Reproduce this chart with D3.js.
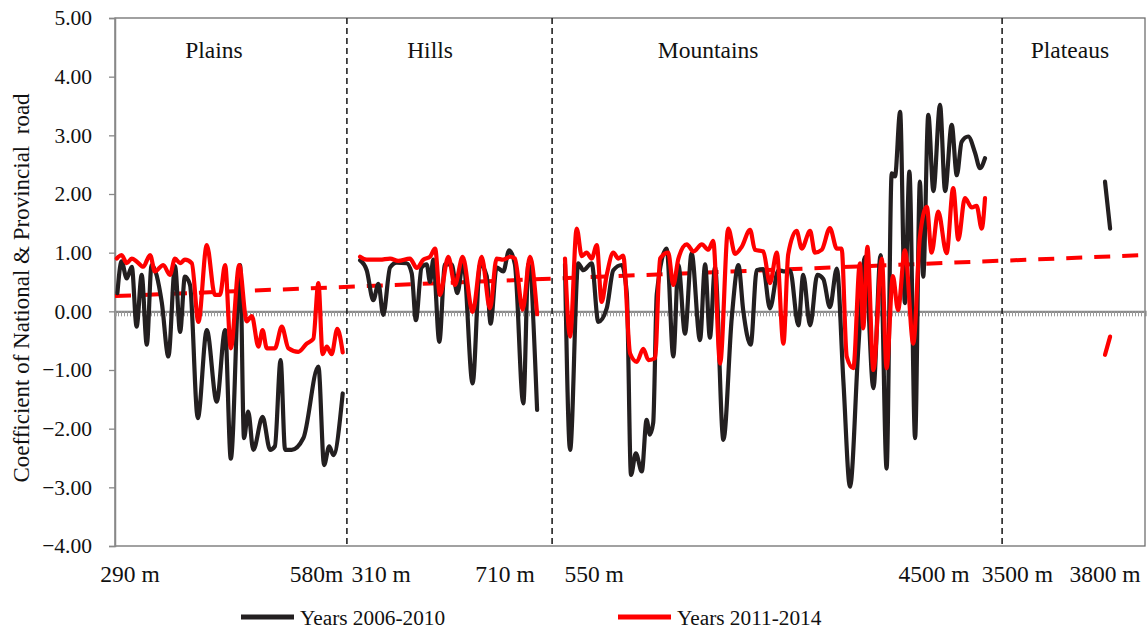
<!DOCTYPE html>
<html><head><meta charset="utf-8">
<script src="https://cdn.jsdelivr.net/npm/d3@7/dist/d3.min.js"></script>
<style>body{margin:0;background:#fff}svg{display:block}text{font-family:"Liberation Serif","Times New Roman",serif;fill:#111}</style>
</head><body><svg id="c" width="1147" height="632"></svg>
<script>
// ---- data (x = sample index along the category axis, y = coefficient) ----
const yTicks = [5, 4, 3, 2, 1, 0, -1, -2, -3, -4];
const regionNames = ["Plains", "Hills", "Mountains", "Plateaus"];
const regionLabelPos = [33, 105, 197.7, 318.3];
const regionBounds = [77.3, 145.7, 295.7];
const xLabels = ["290 m", "580m", "310 m", "710 m", "550 m", "4500 m", "3500 m", "3800 m"];
const xLabelPos = [5, 67.2, 88.7, 130, 159.7, 273, 300.8, 330];
const categoryCount = 343;
const seriesNames = ["Years 2006-2010", "Years 2011-2014"];
const trendValues = [0.26, 0.96];

const black2006 = [
 [[0.8,0.31],[2.2,0.85],[3.9,0.56],[5.6,0.76],[7.2,-0.26],[8.9,0.62],[10.6,-0.57],[12.2,0.79],[15.6,0.15],[17.8,-0.77],[20,0.77],[21.7,-0.35],[23.3,0.59],[25,0.45],[27.6,-1.82],[30.6,-0.32],[33.9,-1.54],[36.7,-0.32],[38.6,-2.51],[41.7,0.79],[43,-2.16],[44.4,-1.71],[46.1,-2.36],[49.2,-1.8],[51.7,-2.36],[53.3,-2.3],[55.2,-0.83],[56.7,-2.36],[58.9,-2.36],[62.8,-2.16],[67.8,-0.94],[69.7,-2.62],[71.4,-2.3],[72.8,-2.45],[75.9,-1.4]],
 [[81.7,0.87],[83.9,0.7],[86.1,0.19],[87.8,0.47],[89.4,-0.06],[91.7,0.75],[93.9,0.83],[97.2,0.82],[98.9,0.65],[100.3,-0.15],[102.2,0.75],[103.9,0.8],[105,0.5],[106.1,0.88],[108.1,-0.52],[110,0.8],[112.2,0.8],[114.1,0.31],[116.1,0.85],[119.2,-1.23],[121.7,0.8],[123.9,0.6],[125.2,-0.21],[127.2,0.75],[129.4,0.68],[131.4,1.04],[133.3,0.8],[136.1,-1.57],[137.8,0.8],[140.7,-1.68]],
 [[150,0.8],[151.7,-2.36],[154.4,0.82],[156.1,0.7],[158.9,0.82],[161.1,-0.18],[163.9,0.05],[166.1,0.7],[168.9,0.79],[170.6,0.3],[172,-2.79],[173.6,-2.42],[175.6,-2.73],[177.2,-1.85],[178.3,-2.1],[179.4,-1.9],[180.6,0.3],[183.9,1.07],[186.1,-0.77],[187.8,0.79],[190,-0.38],[192.2,0.99],[195,-0.49],[196.7,0.8],[198.3,-0.45],[200,0.75],[202.8,-2.19],[205.6,-0.1],[207.8,0.79],[209.4,0.02],[211.9,-0.57],[213.9,0.7],[216.1,0.72],[218.3,0.05],[221.1,0.7],[223.3,0.68],[225,0.7],[227.8,-0.24],[229.4,0.62],[231.7,-0.24],[234.1,0.62],[236.1,0.55],[238.3,0.07],[240.6,0.73],[242.8,-1.2],[245,-2.99],[247.8,-0.6],[250,0.93],[252.8,-1.31],[255.2,0.96],[257.2,-2.68],[258.9,2.35],[260,2.3],[261.7,3.4],[263.3,0.14],[264.8,2.38],[266.7,-2.16],[268.3,2.21],[269.4,0.59],[271.1,3.35],[272.8,2.05],[275,3.52],[276.7,2.05],[278.9,3.18],[280.6,2.32],[282.2,2.89],[284.4,2.98],[286.7,2.7],[288.3,2.44],[290,2.61]],
 [[330,2.21],[331.7,1.41]]
];
const red2011 = [
 [[0.6,0.9],[2.2,0.96],[3.9,0.82],[5.6,0.9],[7.2,0.85],[9.4,0.76],[11.7,0.96],[13.3,0.68],[16.1,0.79],[18.3,0.62],[20,0.9],[21.7,0.82],[23.3,0.88],[25.6,0.82],[27.8,-0.18],[30.6,1.13],[33.3,0.28],[35,0.28],[36.7,0.79],[38.6,-0.63],[41.4,0.79],[43.9,-0.17],[45.6,-0.08],[47.8,-0.6],[49.2,-0.32],[50.6,-0.63],[53.3,-0.63],[55.6,-0.26],[57.8,-0.63],[61.1,-0.69],[63.9,-0.55],[66.1,-0.47],[67.8,0.48],[69.2,-0.73],[70.6,-0.6],[72.2,-0.73],[74.1,-0.3],[75.9,-0.7]],
 [[81.7,0.93],[83.9,0.88],[88.3,0.88],[91.7,0.9],[94.4,0.86],[98.3,0.9],[100.6,0.74],[102.8,0.88],[105,0.93],[106.7,1.07],[108.3,0.28],[111.1,0.93],[113.3,0.45],[115.9,0.93],[119.2,-0.01],[122.2,0.93],[125,0.05],[127.2,0.9],[129.4,0.88],[131.7,0.93],[133.3,0.9],[135.9,0.03],[138.3,0.93],[140.7,-0.05]],
 [[150,0.9],[151.7,-0.43],[153.9,1.41],[155.6,0.94],[157.2,1.0],[158.9,0.9],[160.6,1.13],[162.2,0.16],[163.9,0.62],[166.1,1.0],[167.8,0.9],[169.4,0.95],[171.7,-0.72],[173.9,-0.86],[176.1,-0.64],[177.8,-0.83],[180,-0.8],[181.7,0.9],[184.4,1.0],[186.1,0.45],[187.8,0.9],[190.6,1.14],[192.8,1.02],[195.6,1.14],[197.8,1.05],[199.4,1.2],[201.7,-0.89],[204.4,1.41],[206.7,0.98],[208.9,1.1],[211.7,1.39],[213.3,1.05],[216.1,1.02],[218.3,0.48],[220.6,1.0],[222.8,-0.55],[224.4,0.97],[227.2,1.37],[228.9,1.07],[231.7,1.37],[233.3,1.0],[235.6,1.05],[238.3,1.42],[240.6,1.07],[242.2,1.07],[243.9,-0.77],[246.1,-0.97],[248.3,0.82],[249.4,-0.29],[250.8,1.1],[252.8,-1.0],[255.6,0.9],[257.2,-0.97],[259.3,0.6],[261,0.02],[263.3,1.04],[266.1,-0.55],[268.3,1.27],[270.6,1.78],[272.2,1.0],[274.4,1.7],[277.2,0.99],[279.4,2.1],[281.1,1.22],[283.3,1.93],[285.6,1.77],[287.2,1.8],[288.9,1.41],[290,1.93]],
 [[330,-0.74],[331.7,-0.43]]
];

// ---- layout ----
const svg = d3.select("#c");
const L = 115, R = 1145, T = 18, B = 546;
const x = d3.scaleLinear().domain([0, categoryCount + 0.33]).range([L, R]);
const y = d3.scaleLinear().domain([-4, 5]).range([B, T]);

// frame
svg.append("rect").attr("x", L).attr("y", T).attr("width", R - L).attr("height", B - T)
  .attr("fill", "none").attr("stroke", "#6f6f6f").attr("stroke-width", 1.3);

// y axis
const yAxis = svg.append("g").attr("transform", `translate(${L},0)`)
  .call(d3.axisLeft(y).tickValues(yTicks).tickFormat(d3.format(".2f")).tickSize(6).tickPadding(17));
yAxis.select(".domain").attr("stroke", "#888").attr("stroke-width", 1.5);
yAxis.selectAll(".tick line").attr("stroke", "#888").attr("stroke-width", 1.3);
yAxis.selectAll("text").attr("font-size", 21.5).attr("font-family", "Liberation Serif").attr("fill", "#111");

// zero category axis with many ticks
const cats = d3.range(0, categoryCount + 1);
const xAxis = svg.append("g").attr("transform", `translate(0,${y(0)})`)
  .call(d3.axisBottom(x).tickValues(cats).tickSize(5).tickFormat(""));
xAxis.select(".domain").attr("stroke", "#8a8a8a").attr("stroke-width", 2.2);
xAxis.selectAll(".tick line").attr("stroke", "#9a9a9a").attr("stroke-width", 1);

// region separators
svg.selectAll("line.sep").data(regionBounds).join("line").attr("class", "sep")
  .attr("x1", d => x(d)).attr("x2", d => x(d)).attr("y1", T).attr("y2", B)
  .attr("stroke", "#222").attr("stroke-width", 1.6).attr("stroke-dasharray", "6,4");

// region labels
svg.selectAll("text.reg").data(regionNames).join("text").attr("class", "reg")
  .attr("x", (d, i) => x(regionLabelPos[i])).attr("y", 58).attr("text-anchor", "middle")
  .attr("font-size", 23.5).text(d => d);

// x labels
svg.selectAll("text.xl").data(xLabels).join("text").attr("class", "xl")
  .attr("x", (d, i) => x(xLabelPos[i])).attr("y", 582).attr("text-anchor", "middle")
  .attr("font-size", 23.5).text(d => d);

// y title
svg.append("text").attr("transform", "translate(29,288) rotate(-90)").attr("text-anchor", "middle")
  .attr("font-size", 23).attr("xml:space", "preserve").text("Coefficient of National & Provincial  road");

// trend line
svg.append("line").attr("x1", x(0)).attr("x2", x(categoryCount + 0.33))
  .attr("y1", y(trendValues[0])).attr("y2", y(trendValues[1]))
  .attr("stroke", "#ff0000").attr("stroke-width", 4).attr("stroke-dasharray", "16,12");

// series
const line = d3.line().x(d => x(d[0])).y(d => y(d[1])).curve(d3.curveMonotoneX);
const g = svg.append("g");
g.selectAll("path.b").data(black2006).join("path").attr("class", "b")
  .attr("d", line).attr("fill", "none").attr("stroke", "#231f20").attr("stroke-width", 4.2)
  .attr("stroke-linejoin", "round").attr("stroke-linecap", "round");
g.selectAll("path.r").data(red2011).join("path").attr("class", "r")
  .attr("d", line).attr("fill", "none").attr("stroke", "#ff0000").attr("stroke-width", 4.2)
  .attr("stroke-linejoin", "round").attr("stroke-linecap", "round");

// legend
const leg = svg.append("g");
const legX = [241, 618];
const legColors = ["#231f20", "#ff0000"];
seriesNames.forEach((s, i) => {
  leg.append("line").attr("x1", legX[i]).attr("x2", legX[i] + 53).attr("y1", 617).attr("y2", 617)
    .attr("stroke", legColors[i]).attr("stroke-width", 5);
  leg.append("text").attr("x", legX[i] + 59).attr("y", 625).attr("font-size", 21.3).text(s);
});
</script></body></html>
